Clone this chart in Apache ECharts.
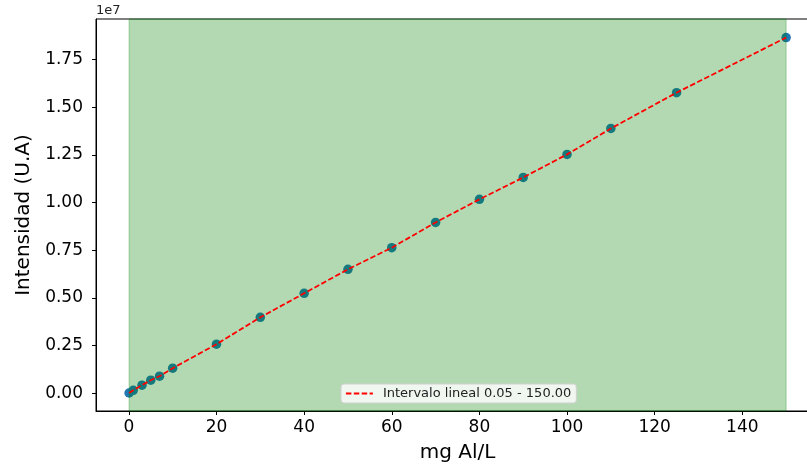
<!DOCTYPE html>
<html>
<head>
<meta charset="utf-8">
<script src="https://cdn.jsdelivr.net/npm/echarts@6/dist/echarts.min.js"></script>
<style>html,body{margin:0;padding:0;background:#fff}#c{width:807px;height:465px}</style>
</head>
<body>
<div id="c"></div>
<script>
// concentration (mg Al/L)
const concentrations = [0.05, 1, 3, 5, 7, 10, 20, 30, 40, 50, 60, 70, 80, 90, 100, 110, 125, 150];
// intensity (U.A)
const intensities = [0.001e7, 0.015e7, 0.042e7, 0.068e7, 0.089e7, 0.131e7, 0.257e7, 0.398e7, 0.524e7, 0.650e7, 0.7635e7, 0.896e7, 1.017e7, 1.132e7, 1.253e7, 1.389e7, 1.577e7, 1.866e7];
const spanRange = [0.05, 150];
const xTicks = [0, 20, 40, 60, 80, 100, 120, 140];
const yTicks = [0, 0.25e7, 0.5e7, 0.75e7, 1.0e7, 1.25e7, 1.5e7, 1.75e7];
const legendLabel = 'Intervalo lineal 0.05 - 150.00';

const FONT = 'DejaVu Sans';
const pts = concentrations.map((c, i) => [c, intensities[i]]);
const chart = echarts.init(document.getElementById('c'), null, {renderer: 'canvas'});
chart.setOption({
  animation: false,
  textStyle: {fontFamily: FONT},
  grid: {left: 96, top: 19, width: 723, height: 392, show: true, borderColor: '#000', borderWidth: 1,
    backgroundColor: 'transparent', containLabel: false, outerBoundsMode: 'none'},
  legend: {
    data: [legendLabel], left: 341, top: 384, padding: [3, 5, 3, 4],
    itemWidth: 27, itemHeight: 10, itemGap: 6,
    itemStyle: {color: 'transparent', borderWidth: 0, opacity: 0},
    lineStyle: {color: '#ff0000', width: 1.8, type: [5.5, 2.4], opacity: 1},
    textStyle: {fontFamily: FONT, fontSize: 13, color: '#222', padding: [0, 0, 0, 5]},
    backgroundColor: 'rgba(255,255,255,0.8)', borderColor: '#d0d0d0', borderWidth: 1, borderRadius: 3
  },
  xAxis: {
    type: 'value', min: -7.5, max: 157.5,
    name: 'mg Al/L', nameLocation: 'middle', nameGap: 32,
    nameTextStyle: {fontFamily: FONT, fontSize: 20, color: '#000'},
    axisLine: {show: true, onZero: false, lineStyle: {color: '#000', width: 1}},
    axisTick: {show: true, length: 4, lineStyle: {color: '#000'}, customValues: xTicks},
    axisLabel: {fontFamily: FONT, fontSize: 17, color: '#000', margin: 8, customValues: xTicks},
    splitLine: {show: false}
  },
  yAxis: {
    type: 'value', min: -0.0935e7, max: 1.9635e7,
    name: 'Intensidad (U.A)', nameLocation: 'middle', nameGap: 62, nameRotate: 90,
    nameTextStyle: {fontFamily: FONT, fontSize: 20, color: '#000'},
    axisLine: {show: true, onZero: false, lineStyle: {color: '#000', width: 1}},
    axisTick: {show: true, length: 4, lineStyle: {color: '#000'}, customValues: yTicks},
    axisLabel: {fontFamily: FONT, fontSize: 17, color: '#000', margin: 13, customValues: yTicks,
      formatter: v => (v / 1e7).toFixed(2)},
    splitLine: {show: false}
  },
  graphic: [{type: 'text', left: 96, top: 4, style: {text: '1e7', font: '13px "DejaVu Sans"', fill: '#222'}}],
  series: [
    {
      type: 'scatter', name: 'data', z: 2, data: pts,
      symbolSize: 9.5, itemStyle: {color: '#1f77b4', opacity: 1}
    },
    {
      type: 'line', name: 'span', z: 3, data: [],
      markArea: {silent: true, z: 3,
        itemStyle: {color: 'rgba(0,128,0,0.3)', borderColor: 'rgba(0,128,0,0.3)', borderWidth: 1},
        data: [[{xAxis: spanRange[0]}, {xAxis: spanRange[1]}]]}
    },
    {
      type: 'line', name: legendLabel, z: 5, data: pts,
      showSymbol: false, symbol: 'none',
      lineStyle: {color: '#ff0000', width: 1.8, type: [5.5, 2.4]},
      itemStyle: {color: '#ff0000'}
    }
  ]
});
</script>
</body>
</html>
